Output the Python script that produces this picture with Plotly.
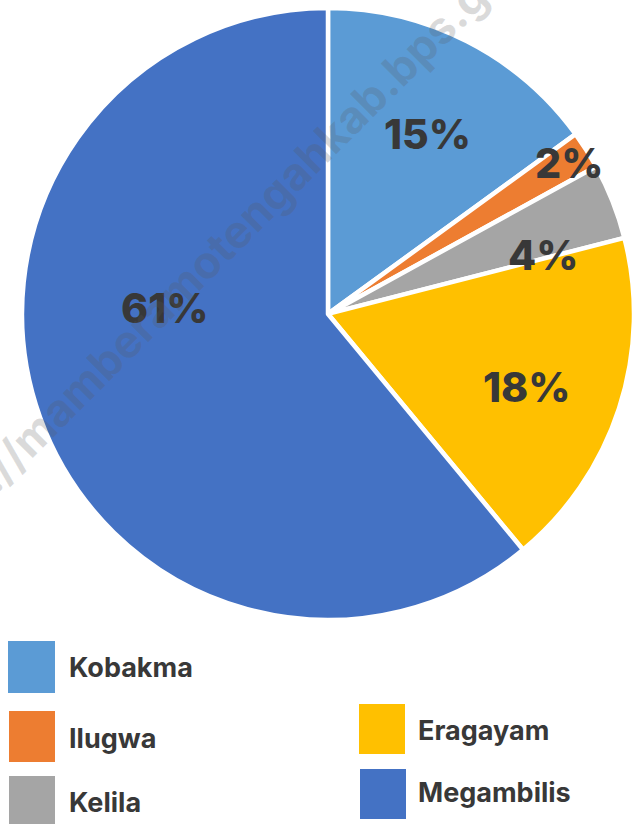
import plotly.graph_objects as go

# ---- data ----
districts = ["Kobakma", "Ilugwa", "Kelila", "Eragayam", "Megambilis"]
shares = [15, 2, 4, 18, 61]
colors = ["#5B9BD5", "#ED7D31", "#A5A5A5", "#FFC000", "#4472C4"]
watermark = "https://mamberamotengahkab.bps.go.id"

W, H = 634, 824
FONT = "Inter"
TXT = "#383838"


def px(x):
    return x / W


def py(y):
    return 1 - y / H


fig = go.Figure()
fig.add_trace(go.Pie(
    labels=districts,
    values=shares,
    marker=dict(colors=colors, line=dict(color="white", width=4.5)),
    sort=False,
    direction="clockwise",
    rotation=0,
    textinfo="none",
    hoverinfo="label+percent",
    showlegend=False,
    domain=dict(x=[0.0347, 1.0], y=[0.2476, 0.9904]),
))

# percentage labels (label centres in pixels, styling only)
label_pos = [(427, 134), (569, 163), (543, 255), (527, 387), (164, 308)]
annotations = []
for name, v, (lx, ly) in zip(districts, shares, label_pos):
    annotations.append(dict(
        x=px(lx), y=py(ly), xref="paper", yref="paper",
        text=f"{v}%", showarrow=False,
        xanchor="center", yanchor="middle",
        font=dict(family=FONT, size=41, color=TXT, weight=800),
    ))

# watermark
annotations.append(dict(
    x=px(221), y=py(247), xref="paper", yref="paper",
    text=watermark, showarrow=False, textangle=-45,
    xanchor="center", yanchor="middle",
    font=dict(family=FONT, size=45, color="rgba(90,90,90,0.22)", weight=700),
))

# custom legend
legend_boxes = [(8, 641, 55, 693), (9, 711, 55, 762), (9, 776, 55, 830),
                (359, 704, 405, 754), (360, 769, 406, 819)]
legend_text = [(67, 667), (67, 738), (67, 802), (416, 730), (416, 792)]
shapes = []
for name, col, (x0, y0, x1, y1), (tx, ty) in zip(districts, colors, legend_boxes, legend_text):
    shapes.append(dict(type="rect", xref="paper", yref="paper",
                       x0=px(x0), x1=px(x1), y0=py(y1), y1=py(y0),
                       fillcolor=col, line=dict(width=0)))
    annotations.append(dict(
        x=px(tx), y=py(ty), xref="paper", yref="paper",
        text=name, showarrow=False, xanchor="left", yanchor="middle",
        font=dict(family=FONT, size=27, color=TXT, weight=700),
    ))

fig.update_layout(
    width=W, height=H,
    margin=dict(l=0, r=0, t=0, b=0),
    paper_bgcolor="white", plot_bgcolor="white",
    annotations=annotations, shapes=shapes,
    showlegend=False,
)

fig.write_html(
    "out.html",
    config={"displayModeBar": False},
    post_script="document.body.style.margin='0';document.body.style.padding='0';"
                "document.body.style.overflow='hidden';",
)
